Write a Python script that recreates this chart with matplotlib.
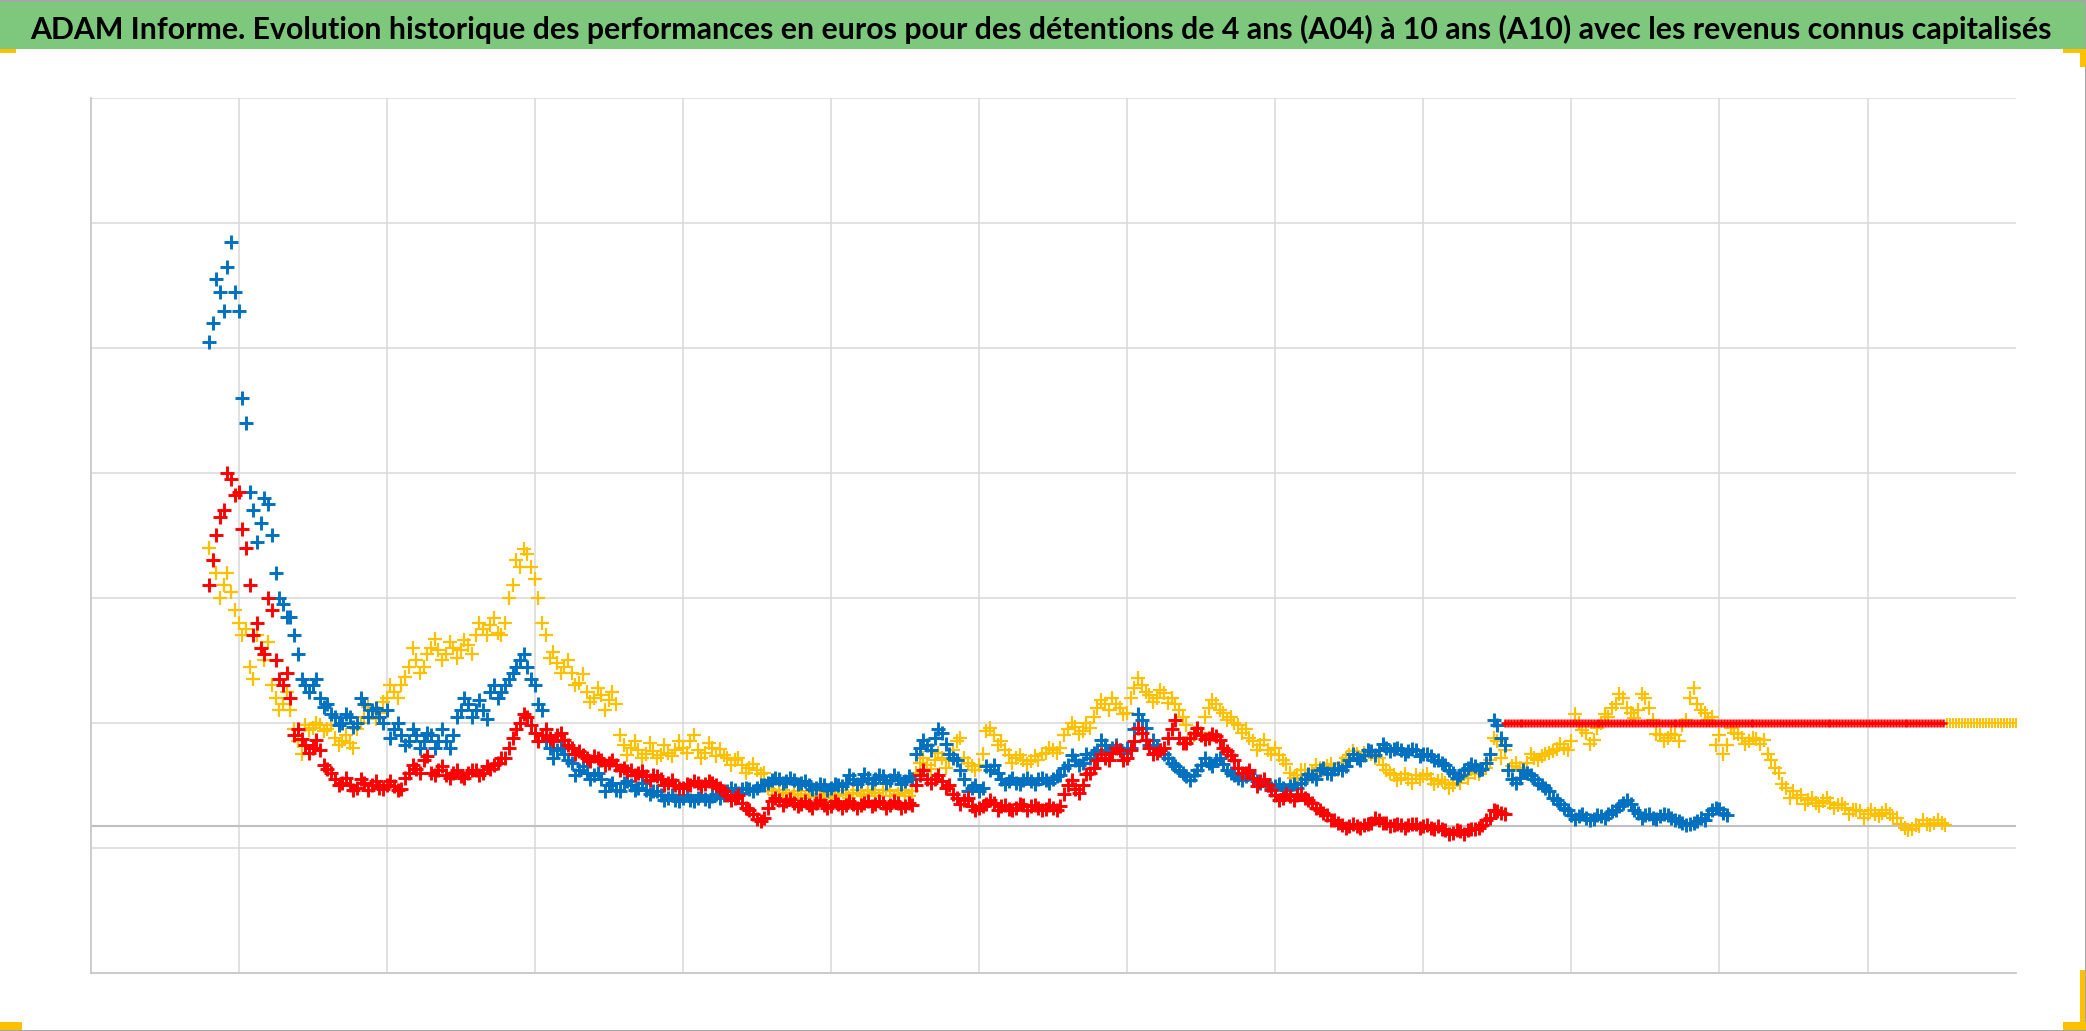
import numpy as np
import matplotlib
matplotlib.use("Agg")
import matplotlib.pyplot as plt
from matplotlib.patches import Rectangle

TITLE = ("ADAM Informe. Evolution historique des performances en euros pour des "
         "détentions de 4 ans (A04) à 10 ans (A10) avec les revenus connus capitalisés")

# ---- data (grid units) ----
# main readings at x = 0.80 + 0.05*k, extra readings at x = 0.825 + 0.05*k
X_START = 0.80
X_START_MID = 0.825
X_STEP = 0.05

serie_bleue = [
    5.05, 5.55, 5.3, 5.85, 5.3, 4.4, 3.7, 3.6, 3.75, 3.2,
    2.95, 2.85, 2.55, 2.3, 2.3, 2.2, 2.15, 2.05, 2.0, 2.05,
    2.0, 2.15, 2.1, 2.05, 2.1, 1.95, 1.9, 1.85, 1.9, 1.85,
    1.9, 1.85, 1.85, 1.9, 2.1, 2.15, 2.1, 2.1, 2.25, 2.2,
    2.3, 2.4, 2.5, 2.45, 2.3, 2.1, 1.8, 1.78, 1.75, 1.68,
    1.62, 1.6, 1.58, 1.55, 1.5, 1.46, 1.52, 1.5, 1.48, 1.46,
    1.45, 1.42, 1.4, 1.38, 1.4, 1.38, 1.4, 1.39, 1.41, 1.4,
    1.45, 1.46, 1.47, 1.47, 1.48, 1.5, 1.54, 1.55, 1.53, 1.54,
    1.52, 1.5, 1.48, 1.5, 1.48, 1.5, 1.52, 1.55, 1.53, 1.56,
    1.55, 1.57, 1.54, 1.56, 1.53, 1.55, 1.8, 1.82, 1.88, 1.92,
    1.75, 1.7, 1.55, 1.48, 1.45, 1.65, 1.66, 1.55, 1.53, 1.52,
    1.54, 1.53, 1.55, 1.54, 1.55, 1.58, 1.66, 1.7, 1.68, 1.72,
    1.78, 1.82, 1.8, 1.78, 1.8, 1.95, 2.02, 1.82, 1.8, 1.75,
    1.68, 1.62, 1.57, 1.58, 1.66, 1.68, 1.7, 1.67, 1.6, 1.56,
    1.57, 1.55, 1.52, 1.5, 1.49, 1.48, 1.49, 1.48, 1.55, 1.57,
    1.62, 1.6, 1.63, 1.62, 1.7, 1.72, 1.74, 1.77, 1.78, 1.8,
    1.79, 1.78, 1.77, 1.78, 1.75, 1.73, 1.7, 1.66, 1.6, 1.58,
    1.64, 1.65, 1.63, 1.75, 1.98, 1.82, 1.55, 1.56, 1.6, 1.55,
    1.5, 1.45, 1.38, 1.32, 1.26, 1.25, 1.24, 1.23, 1.25, 1.27,
    1.3, 1.36, 1.35, 1.28, 1.26, 1.24, 1.25, 1.26, 1.22, 1.2,
    1.19, 1.21, 1.22, 1.3, 1.31, 1.26,
]
serie_bleue_mid = [
    5.2, 5.45, 5.65, 5.45, 4.6, 3.85, 3.45, 3.8, 3.5, 3.0,
    2.85, 2.7, 2.35, 2.25, 2.35, 2.13, 2.07, 1.98, 2.07, 1.97,
    2.2, 2.05, 2.12, 2.0, 1.88, 2.0, 1.82, 1.95, 1.8, 1.92,
    1.8, 1.95, 1.8, 2.05, 2.2, 2.05, 2.18, 2.03, 2.3, 2.25,
    2.35, 2.45, 2.55, 2.35, 2.15, 1.85, 1.72, 1.8, 1.7, 1.58,
    1.65, 1.55, 1.6, 1.45, 1.52, 1.45, 1.53, 1.46, 1.52, 1.43,
    1.45, 1.38, 1.42, 1.37, 1.42, 1.37, 1.42, 1.37, 1.43, 1.42,
    1.48, 1.44, 1.48, 1.45, 1.5, 1.52, 1.56, 1.52, 1.56, 1.51,
    1.53, 1.47, 1.51, 1.46, 1.51, 1.49, 1.58, 1.51, 1.59, 1.52,
    1.58, 1.52, 1.58, 1.51, 1.57, 1.75, 1.86, 1.78, 1.95, 1.83,
    1.72, 1.62, 1.45, 1.5, 1.48, 1.62, 1.6, 1.51, 1.56, 1.51,
    1.56, 1.51, 1.56, 1.52, 1.57, 1.64, 1.74, 1.66, 1.75, 1.76,
    1.86, 1.77, 1.82, 1.76, 1.8, 2.07, 1.96, 1.86, 1.78, 1.72,
    1.65, 1.6, 1.54, 1.62, 1.72, 1.65, 1.72, 1.62, 1.58, 1.54,
    1.6, 1.53, 1.54, 1.48, 1.51, 1.46, 1.51, 1.52, 1.59, 1.55,
    1.64, 1.59, 1.64, 1.65, 1.75, 1.7, 1.78, 1.74, 1.83, 1.77,
    1.8, 1.75, 1.79, 1.73, 1.75, 1.7, 1.68, 1.62, 1.56, 1.62,
    1.67, 1.62, 1.68, 2.02, 1.88, 1.62, 1.52, 1.62, 1.58, 1.52,
    1.48, 1.4, 1.35, 1.3, 1.23, 1.27, 1.22, 1.26, 1.24, 1.29,
    1.33, 1.38, 1.3, 1.24, 1.27, 1.23, 1.27, 1.24, 1.21, 1.18,
    1.2, 1.24, 1.27, 1.32, 1.28,
]

serie_rouge = [
    3.1, 3.5, 3.7, 3.95, 3.85, 3.4, 2.7, 2.6, 3.0, 2.5,
    2.3, 2.2, 1.95, 1.82, 1.8, 1.78, 1.63, 1.55, 1.52, 1.5,
    1.48, 1.52, 1.5, 1.48, 1.5, 1.49, 1.47, 1.6, 1.63, 1.7,
    1.6, 1.62, 1.58, 1.6, 1.57, 1.6, 1.62, 1.6, 1.63, 1.68,
    1.72, 1.88, 2.0, 2.05, 1.92, 1.9, 1.88, 1.9, 1.86, 1.8,
    1.77, 1.72, 1.73, 1.7, 1.68, 1.66, 1.64, 1.62, 1.6, 1.57,
    1.58, 1.55, 1.52, 1.5, 1.48, 1.5, 1.52, 1.51, 1.52, 1.48,
    1.42, 1.4, 1.36, 1.3, 1.23, 1.24, 1.37, 1.38, 1.37, 1.36,
    1.35, 1.34, 1.36, 1.34, 1.33, 1.35, 1.34, 1.35, 1.34, 1.37,
    1.35, 1.36, 1.34, 1.36, 1.33, 1.34, 1.58, 1.55, 1.55, 1.53,
    1.5, 1.4, 1.38, 1.33, 1.32, 1.35, 1.36, 1.33, 1.31, 1.32,
    1.34, 1.33, 1.32, 1.31, 1.32, 1.33, 1.5, 1.47, 1.5, 1.6,
    1.7, 1.72, 1.76, 1.78, 1.72, 1.85, 1.92, 1.8, 1.76, 1.8,
    1.95, 1.88, 1.84, 1.92, 1.9, 1.88, 1.89, 1.8, 1.74, 1.64,
    1.6, 1.56, 1.53, 1.5, 1.42, 1.4, 1.41, 1.42, 1.4, 1.36,
    1.3, 1.26, 1.22, 1.18, 1.17, 1.17, 1.18, 1.2, 1.22, 1.2,
    1.18, 1.18, 1.18, 1.19, 1.17, 1.16, 1.17, 1.14, 1.12, 1.13,
    1.14, 1.15, 1.18, 1.24, 1.29, 1.27,
]
serie_rouge_mid = [
    3.3, 3.65, 4.0, 3.82, 3.55, 3.1, 2.8, 2.55, 2.9, 2.35,
    2.4, 1.9, 1.87, 1.76, 1.86, 1.66, 1.6, 1.5, 1.56, 1.46,
    1.55, 1.46, 1.53, 1.47, 1.53, 1.46, 1.56, 1.66, 1.6, 1.73,
    1.58, 1.65, 1.56, 1.62, 1.56, 1.62, 1.58, 1.65, 1.66, 1.72,
    1.8, 1.95, 2.07, 1.98, 1.85, 1.95, 1.85, 1.92, 1.82, 1.75,
    1.74, 1.69, 1.72, 1.66, 1.7, 1.62, 1.61, 1.58, 1.61, 1.54,
    1.57, 1.5, 1.54, 1.48, 1.51, 1.53, 1.49, 1.53, 1.5, 1.45,
    1.38, 1.42, 1.32, 1.27, 1.21, 1.32, 1.4, 1.34, 1.39, 1.33,
    1.37, 1.32, 1.38, 1.32, 1.37, 1.32, 1.37, 1.32, 1.36, 1.33,
    1.37, 1.32, 1.37, 1.32, 1.36, 1.5, 1.62, 1.52, 1.58, 1.48,
    1.43, 1.35, 1.4, 1.3, 1.33, 1.38, 1.3, 1.34, 1.3, 1.35,
    1.3, 1.34, 1.3, 1.34, 1.3, 1.43, 1.54, 1.44, 1.59, 1.64,
    1.75, 1.7, 1.8, 1.7, 1.78, 1.96, 1.86, 1.75, 1.78, 1.88,
    2.02, 1.84, 1.88, 1.96, 1.87, 1.91, 1.86, 1.77, 1.7, 1.6,
    1.62, 1.49, 1.55, 1.46, 1.38, 1.43, 1.38, 1.43, 1.38, 1.32,
    1.28, 1.22, 1.2, 1.16, 1.19, 1.16, 1.19, 1.24, 1.2, 1.17,
    1.19, 1.16, 1.19, 1.16, 1.18, 1.15, 1.15, 1.11, 1.14, 1.11,
    1.15, 1.16, 1.22, 1.3, 1.28,
]

serie_jaune = [
    3.4, 3.2, 3.1, 3.05, 2.8, 2.75, 2.35, 2.6, 2.65, 2.2,
    2.15, 2.1, 1.85, 1.98, 1.96, 1.98, 1.95, 1.88, 1.85, 1.84,
    1.95, 2.05, 2.1, 2.08, 2.2, 2.25, 2.3, 2.45, 2.5, 2.45,
    2.6, 2.58, 2.55, 2.6, 2.58, 2.62, 2.7, 2.75, 2.78, 2.72,
    2.8, 3.1, 3.25, 3.35, 3.15, 2.8, 2.52, 2.48, 2.45, 2.4,
    2.32, 2.25, 2.2, 2.22, 2.18, 2.15, 1.82, 1.8, 1.78, 1.75,
    1.77, 1.74, 1.76, 1.78, 1.8, 1.85, 1.78, 1.76, 1.8, 1.79,
    1.72, 1.7, 1.66, 1.64, 1.62, 1.6, 1.45, 1.46, 1.44, 1.43,
    1.42, 1.43, 1.41, 1.42, 1.4, 1.43, 1.42, 1.44, 1.43, 1.45,
    1.44, 1.46, 1.45, 1.43, 1.44, 1.45, 1.68, 1.66, 1.7, 1.72,
    1.7, 1.85, 1.72, 1.65, 1.66, 1.93, 1.9, 1.85, 1.74, 1.72,
    1.7, 1.69, 1.7, 1.76, 1.78, 1.8, 1.95, 1.97, 1.93, 1.96,
    2.12, 2.15, 2.2, 2.12, 2.08, 2.28, 2.3, 2.22, 2.2, 2.24,
    2.2, 2.1, 1.98, 1.9, 1.92, 2.12, 2.15, 2.08, 2.05, 1.98,
    1.95, 1.85, 1.82, 1.78, 1.8, 1.7, 1.6, 1.58, 1.62, 1.6,
    1.64, 1.65, 1.63, 1.68, 1.74, 1.75, 1.76, 1.75, 1.72, 1.62,
    1.58, 1.56, 1.55, 1.58, 1.57, 1.55, 1.53, 1.52, 1.5, 1.52,
    1.56, 1.6, 1.62, 1.7, 1.85, 1.78, 1.65, 1.64, 1.68, 1.72,
    1.73, 1.76, 1.79, 1.8, 1.85, 2.0, 1.92, 1.86, 2.0, 2.05,
    2.15, 2.2, 2.08, 2.1, 2.2, 2.02, 1.9, 1.88, 1.9, 1.98,
    2.2, 2.15, 2.08, 2.05, 1.9, 1.82, 1.92, 1.88, 1.85, 1.87,
    1.86, 1.7, 1.6, 1.48, 1.45, 1.42, 1.38, 1.36, 1.37, 1.36,
    1.34, 1.32, 1.3, 1.29, 1.27, 1.27, 1.28, 1.27, 1.24, 1.16,
    1.15, 1.17, 1.19, 1.2, 1.2,
]
serie_jaune_mid = [
    3.3, 3.0, 3.2, 2.9, 2.7, 2.45, 2.7, 2.5, 2.3, 2.1,
    2.25, 1.95, 1.75, 1.94, 2.0, 1.93, 1.98, 1.82, 1.9, 1.8,
    2.0, 2.13, 2.03, 2.17, 2.3, 2.2, 2.37, 2.6, 2.4, 2.55,
    2.67, 2.5, 2.65, 2.52, 2.66, 2.55, 2.8, 2.7, 2.84, 2.7,
    3.0, 3.3, 3.39, 3.25, 3.0, 2.7, 2.57, 2.4, 2.5, 2.3,
    2.39, 2.17, 2.28, 2.1, 2.25, 1.9, 1.74, 1.85, 1.72, 1.84,
    1.72, 1.82, 1.73, 1.85, 1.76, 1.9, 1.72, 1.84, 1.73, 1.74,
    1.66, 1.72, 1.6, 1.67, 1.59, 1.48, 1.42, 1.46, 1.4, 1.45,
    1.4, 1.45, 1.4, 1.44, 1.41, 1.46, 1.4, 1.46, 1.41, 1.46,
    1.41, 1.46, 1.41, 1.46, 1.41, 1.6, 1.72, 1.63, 1.76, 1.64,
    1.78, 1.88, 1.68, 1.62, 1.75, 1.96, 1.82, 1.78, 1.68, 1.74,
    1.67, 1.73, 1.75, 1.8, 1.76, 1.9, 2.0, 1.91, 2.0, 2.05,
    2.18, 2.1, 2.15, 2.07, 2.2, 2.36, 2.25, 2.17, 2.26, 2.16,
    2.15, 2.05, 1.87, 1.95, 2.05, 2.18, 2.1, 2.02, 2.0, 1.92,
    1.88, 1.78, 1.86, 1.75, 1.74, 1.67, 1.56, 1.62, 1.57, 1.66,
    1.62, 1.67, 1.62, 1.72, 1.77, 1.72, 1.78, 1.72, 1.66, 1.6,
    1.54, 1.59, 1.52, 1.55, 1.59, 1.51, 1.54, 1.48, 1.54, 1.59,
    1.63, 1.59, 1.64, 1.88, 1.72, 1.62, 1.68, 1.62, 1.75, 1.7,
    1.75, 1.77, 1.83, 1.78, 2.07, 1.94, 1.83, 1.96, 2.07, 2.12,
    2.23, 2.12, 2.04, 2.23, 2.12, 1.91, 1.85, 1.91, 1.85, 2.02,
    2.28, 2.1, 2.02, 1.82, 1.75, 1.96, 1.91, 1.83, 1.88, 1.83,
    1.75, 1.64, 1.51, 1.4, 1.4, 1.35, 1.4, 1.33, 1.4, 1.32,
    1.35, 1.27, 1.3, 1.24, 1.3, 1.25, 1.3, 1.24, 1.19, 1.14,
    1.18, 1.22, 1.18, 1.22, 1.18,
]

# constant tail values (flat band at the end of the red and yellow series)
FLAT_LEVEL = 2.0
FLAT_STEP = 0.02
red_flat_span = (9.55, 12.52)
yellow_flat_span = (12.54, 13.0)

AXIS_LEVEL = 1.17  # darker horizontal axis line

BLUE = "#0070C0"
RED = "#FF0000"
YELLOW = "#FFC000"
GREEN = "#7DC87D"

W, H = 2086, 1031
fig = plt.figure(figsize=(W / 100, H / 100), dpi=100)
fig.patch.set_facecolor("white")

# title bar
fig.add_artist(Rectangle((0, 1 - 49 / H), 1, 49 / H, transform=fig.transFigure,
                         facecolor=GREEN, edgecolor="none", zorder=0))
t = fig.text(1041 / W, 1 - 39 / H, TITLE, ha="center", va="baseline",
             fontsize=27, fontweight="bold",
             family=["Liberation Sans Narrow", "Lato", "DejaVu Sans"], color="black")
fig.canvas.draw()
bb = t.get_window_extent(renderer=fig.canvas.get_renderer())
t.set_fontsize(27 * 2016 / bb.width)

# outer border
for xy, w, h in [((0, 1 - 1.5 / H), 1, 1.5 / H), ((1 - 1.5 / W, 0), 1.5 / W, 1),
                 ((0, 0), 1, 1.5 / H)]:
    fig.add_artist(Rectangle(xy, w, h, transform=fig.transFigure,
                             facecolor="#A6A6A6", edgecolor="none", zorder=1))
# selection handles
for x0, y0, w, h in [(0, 49, 16, 4), (2063, 49, 23, 4), (2080, 49, 6, 18),
                     (0, 1022, 22, 8), (2063, 1022, 23, 8), (2080, 970, 5, 60)]:
    fig.add_artist(Rectangle((x0 / W, 1 - (y0 + h) / H), w / W, h / H,
                             transform=fig.transFigure, facecolor=YELLOW,
                             edgecolor="none", zorder=2))

ax = fig.add_axes([90.5 / W, 1 - 972.5 / H, (2015.6 - 90.5) / W, (972.5 - 98.4) / H])
ax.set_xlim(0, 13)
ax.set_ylim(0, 7)
ax.set_xticks(np.arange(1, 13))
ax.set_yticks(np.arange(0, 8))
ax.tick_params(length=0, labelbottom=False, labelleft=False)
ax.grid(True, color="#D9D9D9", linewidth=1.1, zorder=0)
ax.set_axisbelow(True)
for s in ["top", "right"]:
    ax.spines[s].set_visible(False)
for s in ["left", "bottom"]:
    ax.spines[s].set_color("#C8C8C8")
    ax.spines[s].set_linewidth(1.3)
ax.axhline(AXIS_LEVEL, color="#BFBFBF", linewidth=1.5, zorder=1)


def xs(vals, start):
    return start + X_STEP * np.arange(len(vals))


kw = dict(linestyle="none", marker="+")
yk = dict(color=YELLOW, markersize=10.5, markeredgewidth=1.6, zorder=3, **kw)
bk = dict(color=BLUE, markersize=9.5, markeredgewidth=2.1, zorder=4, **kw)
rk = dict(color=RED, markersize=9.5, markeredgewidth=2.1, zorder=5, **kw)

ax.plot(xs(serie_jaune, X_START), serie_jaune, **yk)
ax.plot(xs(serie_jaune_mid, X_START_MID), serie_jaune_mid, **yk)
yf = np.arange(yellow_flat_span[0], yellow_flat_span[1] + 1e-9, FLAT_STEP)
ax.plot(yf, np.full(len(yf), FLAT_LEVEL), color=YELLOW, markersize=7,
        markeredgewidth=1.4, zorder=3, **kw)
ax.plot(xs(serie_bleue, X_START), serie_bleue, **bk)
ax.plot(xs(serie_bleue_mid, X_START_MID), serie_bleue_mid, **bk)
ax.plot(xs(serie_rouge, X_START), serie_rouge, **rk)
ax.plot(xs(serie_rouge_mid, X_START_MID), serie_rouge_mid, **rk)
rf = np.arange(red_flat_span[0], red_flat_span[1] + 1e-9, FLAT_STEP)
ax.plot(rf, np.full(len(rf), FLAT_LEVEL), color=RED, markersize=6,
        markeredgewidth=1.8, zorder=5, **kw)

fig.savefig("out.png", dpi=100, facecolor="white")
